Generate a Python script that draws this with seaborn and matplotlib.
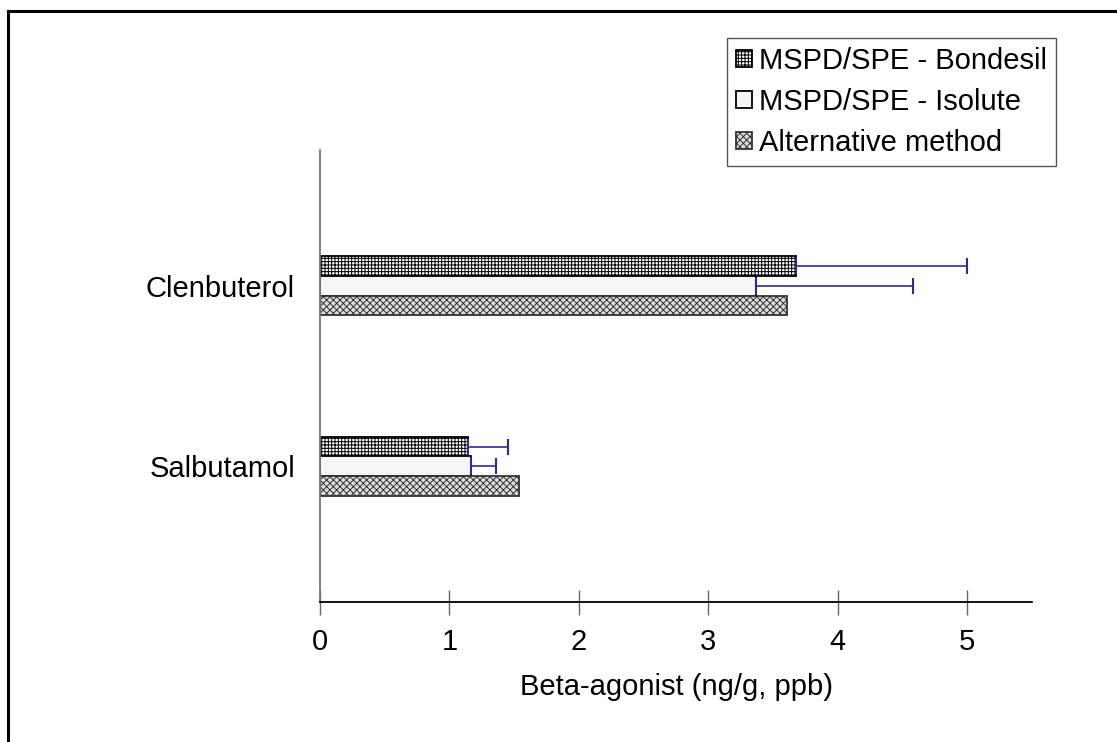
import pandas as pd
import seaborn as sns
import matplotlib.pyplot as plt
from matplotlib.patches import Rectangle

# values (ng/g)
compounds = ['Clenbuterol', 'Salbutamol']
methods = ['MSPD/SPE - Bondesil', 'MSPD/SPE - Isolute', 'Alternative method']
bondesil = [3.68, 1.14]
bondesil_err = [1.32, 0.31]
isolute = [3.37, 1.17]
isolute_err = [1.21, 0.19]
alternative = [3.61, 1.54]
alternative_err = [0.0, 0.0]
xticks = [0, 1, 2, 3, 4, 5]

df = pd.DataFrame({
    'compound': compounds * 3,
    'method': [m for m in methods for _ in compounds],
    'value': bondesil + isolute + alternative,
    'err': bondesil_err + isolute_err + alternative_err,
})

sns.set_style('white')
plt.rcParams['font.family'] = ['Liberation Sans', 'DejaVu Sans']
plt.rcParams['hatch.linewidth'] = 0.7
plt.rcParams['text.color'] = 'black'
plt.rcParams['axes.labelcolor'] = 'black'
plt.rcParams['xtick.color'] = 'black'
plt.rcParams['ytick.color'] = 'black'

fig = plt.figure(figsize=(11.17, 7.42), dpi=100)
ax = fig.add_axes([320 / 1117, 1 - 602 / 742, 712 / 1117, 452 / 742])

sns.barplot(data=df, y='compound', x='value', hue='method', order=compounds,
            hue_order=methods, orient='h', width=0.33, gap=0, errorbar=None,
            legend=False, ax=ax)

# black & white fills like the original
styles = [
    dict(facecolor='white', edgecolor='black', hatch='+++++'),
    dict(facecolor='#f5f5f5', edgecolor='black', hatch=None),
    dict(facecolor='#dddddd', edgecolor='#333333', hatch='xxxxx'),
]
for cont, st in zip(ax.containers, styles):
    for bar in cont:
        bar.set_facecolor(st['facecolor'])
        bar.set_edgecolor(st['edgecolor'])
        bar.set_linewidth(1.3)
        if st['hatch']:
            bar.set_hatch(st['hatch'])

# one-sided error bars (positive only)
for cont, m in zip(ax.containers[:2], methods[:2]):
    sub = df[df['method'] == m].set_index('compound').loc[compounds]
    ys = [b.get_y() + b.get_height() / 2 for b in cont]
    ax.errorbar(sub['value'], ys, xerr=[[0] * len(ys), sub['err']], fmt='none',
                ecolor='#2b2b9c', elinewidth=1.2, capsize=6, capthick=1.5)

ax.set_xlim(0, 5.5)
ax.set_ylim(1.75, -0.75)
ax.set_xticks(xticks)
ax.tick_params(axis='x', bottom=True, direction='inout', length=18, width=1,
               color='#666666', labelcolor='black', labelsize=21, pad=10)
ax.tick_params(axis='y', left=False, length=0, labelcolor='black',
               labelsize=21, pad=18)
ax.set_xlabel('Beta-agonist (ng/g, ppb)', fontsize=21, labelpad=12,
              color='black')
ax.set_ylabel('')

for side in ['top', 'right']:
    ax.spines[side].set_visible(False)
ax.spines['left'].set_color('#777777')
ax.spines['left'].set_linewidth(1.3)
ax.spines['bottom'].set_color('black')
ax.spines['bottom'].set_linewidth(1.3)

leg = ax.legend(ax.containers, methods, loc='upper right',
                bbox_to_anchor=(1056 / 1117, 1 - 38 / 742),
                bbox_transform=fig.transFigure, fontsize=21, frameon=True,
                fancybox=False, edgecolor='#555555', framealpha=1,
                handlelength=0.55, handleheight=0.55, handletextpad=0.25,
                labelspacing=0.45, borderpad=0.3, borderaxespad=0)
leg.get_frame().set_linewidth(1.0)
for t in leg.get_texts():
    t.set_color('black')

# outer frame of the original figure
fig.patches.append(Rectangle((7.5 / 1117, -0.2), 1.2, 1.2 - 10.5 / 742,
                             transform=fig.transFigure, fill=False,
                             edgecolor='black', linewidth=2.2))

fig.savefig('out.png', dpi=100)
